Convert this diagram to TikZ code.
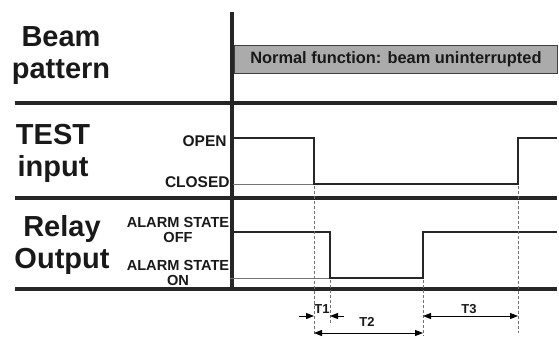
\documentclass[tikz,border=0pt]{standalone}
\usepackage{fontspec}
\setmainfont{Liberation Sans}
\usetikzlibrary{arrows.meta}

\begin{document}
\begin{tikzpicture}[x=1pt, y=-1pt, >={Stealth[length=8pt,width=6pt,inset=0pt]}, thick,
    sep/.style={line width=3.2pt, black!85},
    sig/.style={line width=1.5pt, black!85},
    base/.style={line width=0.8pt, black!55},
    guide/.style={line width=0.8pt, black!55, dash pattern=on 3pt off 2pt},
    big/.style={font=\bfseries\fontsize{29}{32}\selectfont, align=center, inner sep=0pt, text=black!90},
    lvl/.style={font=\bfseries\fontsize{15.5}{16}\selectfont, inner sep=0pt, text=black!90},
    alarm/.style={font=\bfseries\fontsize{14.6}{15}\selectfont, align=center, inner sep=0pt, text=black!90},
    tlbl/.style={font=\bfseries\fontsize{13}{14}\selectfont, inner sep=0pt, text=black!90}]
    \useasboundingbox (0,0) rectangle (559,338);

    % Zeitachse und Trennlinien
    \coordinate (AxTop) at (232, 12);
    \coordinate (AxBot) at (232, 291);
    \draw[sep] (AxTop) -- (AxBot);
    \draw[sep] (15, 103) -- (557, 103);
    \draw[sep] (15, 198) -- (557, 198);
    \draw[sep] (15, 289) -- (557, 289);

    % Zeilenbeschriftung links
    \node[big, anchor=base] (BeamLbl) at (61, 78) {Beam\\pattern};
    \node[big, anchor=base] (TestLbl) at (53, 176) {TEST\\input};
    \node[big, anchor=base] (RelayLbl) at (62, 268) {Relay\\Output};

    % Strahl: grauer Balken
    \node[draw=black!75, line width=0.8pt, fill=black!33, minimum width=323pt, minimum height=28pt,
          anchor=west, font=\bfseries\fontsize{16.4}{18}\selectfont, text=black!90] (Normal)
          at (234, 59) {Normal function: beam uninterrupted};

    % Pegel
    \node[lvl, anchor=base east] (Open) at (227, 146) {OPEN};
    \node[lvl, anchor=base east] (Closed) at (230, 187) {CLOSED};
    \node[alarm, anchor=base] (AlarmOff) at (178, 242) {ALARM STATE\\OFF};
    \node[alarm, anchor=base] (AlarmOn) at (178, 285) {ALARM STATE\\ON};

    % Zeitpunkte
    \coordinate (TA) at (314, 0);
    \coordinate (TB) at (330, 0);
    \coordinate (TC) at (423, 0);
    \coordinate (TD) at (518, 0);

    % TEST-Signal
    \draw[base] (233, 184) -- (TA |- 0, 184);
    \draw[sig] (233, 138) -- (TA |- 0, 138) -- (TA |- 0, 184) -- (TD |- 0, 184)
        -- (TD |- 0, 138) -- (557, 138);

    % Relais-Signal
    \draw[base] (230, 278) -- (TB |- 0, 278);
    \draw[sig] (233, 232) -- (TB |- 0, 232) -- (TB |- 0, 278) -- (TC |- 0, 278)
        -- (TC |- 0, 232) -- (557, 232);

    % Hilfslinien
    \draw[guide] (TA |- 0, 186) -- (TA |- 0, 334);
    \draw[guide] (TB |- 0, 280) -- (TB |- 0, 324);
    \draw[guide] (TC |- 0, 280) -- (TC |- 0, 336);
    \draw[guide] (TD |- 0, 186) -- (TD |- 0, 333);

    % Zeitabstaende
    \coordinate (T1a) at (299, 316);
    \coordinate (T1b) at (344, 316);
    \draw[->, line width=1pt] (T1a) -- (TA |- T1a);
    \draw[->, line width=1pt] (T1b) -- (TB |- T1b);
    \node[tlbl] (T1) at (322, 309) {T1};

    \coordinate (T2y) at (0, 333);
    \draw[<->, line width=1pt] (TA |- T2y) -- (TC |- T2y);
    \node[tlbl] (T2) at (367, 322) {T2};

    \coordinate (T3y) at (0, 316);
    \draw[<->, line width=1pt] (TC |- T3y) -- (TD |- T3y);
    \node[tlbl] (T3) at (469, 309) {T3};
\end{tikzpicture}
\end{document}
